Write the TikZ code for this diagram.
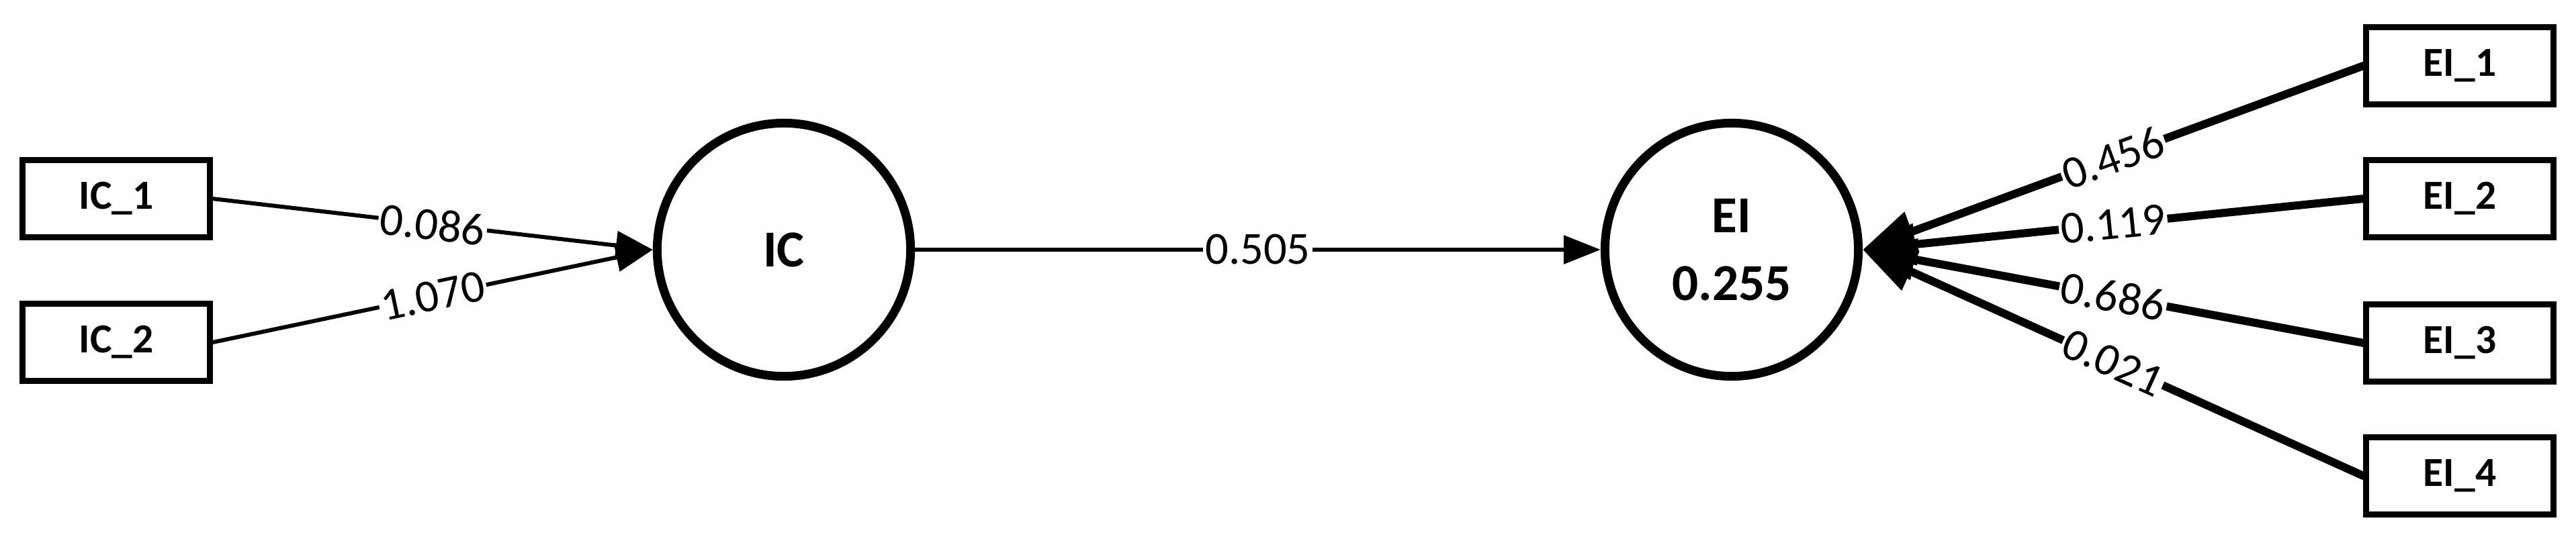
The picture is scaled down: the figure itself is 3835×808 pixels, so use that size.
\documentclass[tikz,border=0pt]{standalone}
\usepackage{fontspec}
\setmainfont{Carlito}
\usetikzlibrary{arrows.meta}

\begin{document}
\begin{tikzpicture}[x=0.01cm, y=-0.01cm,
    indicator/.style={draw, line width=0.09cm, minimum width=2.78cm, minimum height=1.15cm,
        inner sep=0pt, font=\bfseries\fontsize{17.5}{21}\selectfont},
    latent/.style={draw, circle, line width=0.13cm, minimum size=3.77cm, inner sep=0pt,
        align=center, font=\bfseries\fontsize{22}{28.7}\selectfont},
    weight/.style={sloped, fill=white, inner sep=0.03cm, font=\fontsize{19.5}{23}\selectfont},
    thinpath/.style={line width=0.06cm, line cap=round, -{Triangle[length=0.55cm, width=0.42cm]}},
    thickpath/.style={line width=0.12cm, line cap=round, -{Triangle[length=0.78cm, width=0.6cm]}}
]
    \useasboundingbox (0, 0) rectangle (3835, 808);
    \node[indicator] (ic1) at (173, 296) {IC\_1};
    \node[indicator] (ic2) at (173, 510) {IC\_2};
    \node[latent] (ic) at (1167, 372) {IC};
    \node[latent] (ei) at (2578, 372) {EI\\0.255};
    \node[indicator] (ei1) at (3662, 98) {EI\_1};
    \node[indicator] (ei2) at (3662, 296) {EI\_2};
    \node[indicator] (ei3) at (3662, 511) {EI\_3};
    \node[indicator] (ei4) at (3662, 709) {EI\_4};
    \draw
    (ic1.east) edge[thinpath] node[weight] {0.086} (ic.west)
    (ic2.east) edge[thinpath] node[weight] {1.070} (ic.west)
    (ic.east) edge[thinpath] node[weight] {0.505} (ei.west)
    (ei1.west) edge[thickpath] node[weight] {0.456} (ei.east)
    (ei2.west) edge[thickpath] node[weight] {0.119} (ei.east)
    (ei3.west) edge[thickpath] node[weight] {0.686} (ei.east)
    (ei4.west) edge[thickpath] node[weight] {0.021} (ei.east);
\end{tikzpicture}
\end{document}
